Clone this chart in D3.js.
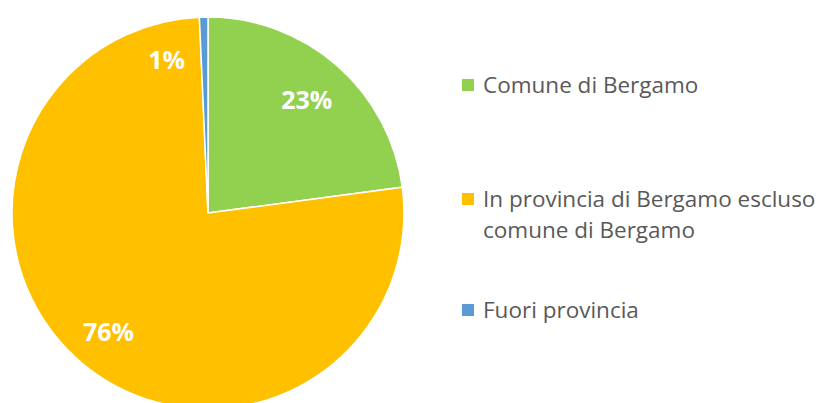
<!DOCTYPE html>
<html>
<head>
<meta charset="utf-8">
<script src="https://cdn.jsdelivr.net/npm/d3@7"></script>
<style>
  body { margin: 0; background: #fff; }
  text { font-family: "Open Sans", "Noto Sans", sans-serif; }
</style>
</head>
<body>
<div id="chart"></div>
<script>
// data
var categories = ["Comune di Bergamo", "In provincia di Bergamo escluso comune di Bergamo", "Fuori provincia"];
var legendLines = [["Comune di Bergamo"], ["In provincia di Bergamo escluso", "comune di Bergamo"], ["Fuori provincia"]];
var values = [22.9, 76.4, 0.7];
var labels = ["23%", "76%", "1%"];
var colors = ["#92d050", "#ffc000", "#5b9bd5"];

var width = 827, height = 403;
var cx = 208, cy = 213, radius = 196;

var svg = d3.select("#chart")
    .append("svg")
    .attr("width", width)
    .attr("height", height);

var pie = d3.pie().sort(null).value(function(d) { return d; });
var arcs = pie(values);

var arc = d3.arc().innerRadius(0).outerRadius(radius);

var g = svg.append("g")
    .attr("transform", "translate(" + cx + "," + cy + ")");

g.selectAll("path")
    .data(arcs)
    .enter()
    .append("path")
    .attr("d", arc)
    .attr("fill", function(d, i) { return colors[i]; })
    .attr("stroke", "#fff")
    .attr("stroke-width", 1.5);

// label positions (radius fraction per slice, small label pushed left)
var labelRadius = [0.765, 0.79, 0.78];
var labelShift = [0, 0, -38];
g.selectAll("text.lbl")
    .data(arcs)
    .enter()
    .append("text")
    .attr("class", "lbl")
    .attr("transform", function(d, i) {
        var a = d3.arc().innerRadius(radius * labelRadius[i]).outerRadius(radius * labelRadius[i]);
        var c = a.centroid(d);
        c[0] += labelShift[i];
        return "translate(" + c[0] + "," + c[1] + ")";
    })
    .attr("text-anchor", "middle")
    .attr("dy", "0.36em")
    .style("font-size", "25px")
    .style("font-weight", "bold")
    .style("fill", "#fff")
    .text(function(d, i) { return labels[i]; });

// legend
var legendY = [93, 207, 318];
var legend = svg.selectAll("g.leg")
    .data(categories)
    .enter()
    .append("g")
    .attr("class", "leg")
    .attr("transform", function(d, i) { return "translate(462," + legendY[i] + ")"; });

legend.append("rect")
    .attr("x", 0)
    .attr("y", -14)
    .attr("width", 12)
    .attr("height", 12)
    .attr("fill", function(d, i) { return colors[i]; });

legend.each(function(d, i) {
    var t = d3.select(this).append("text")
        .attr("x", 21)
        .attr("y", 0)
        .style("font-size", "22.5px")
        .style("fill", "#595959");
    legendLines[i].forEach(function(line, j) {
        t.append("tspan")
            .attr("x", 21)
            .attr("dy", j == 0 ? 0 : 31)
            .text(line);
    });
});
</script>
</body>
</html>
